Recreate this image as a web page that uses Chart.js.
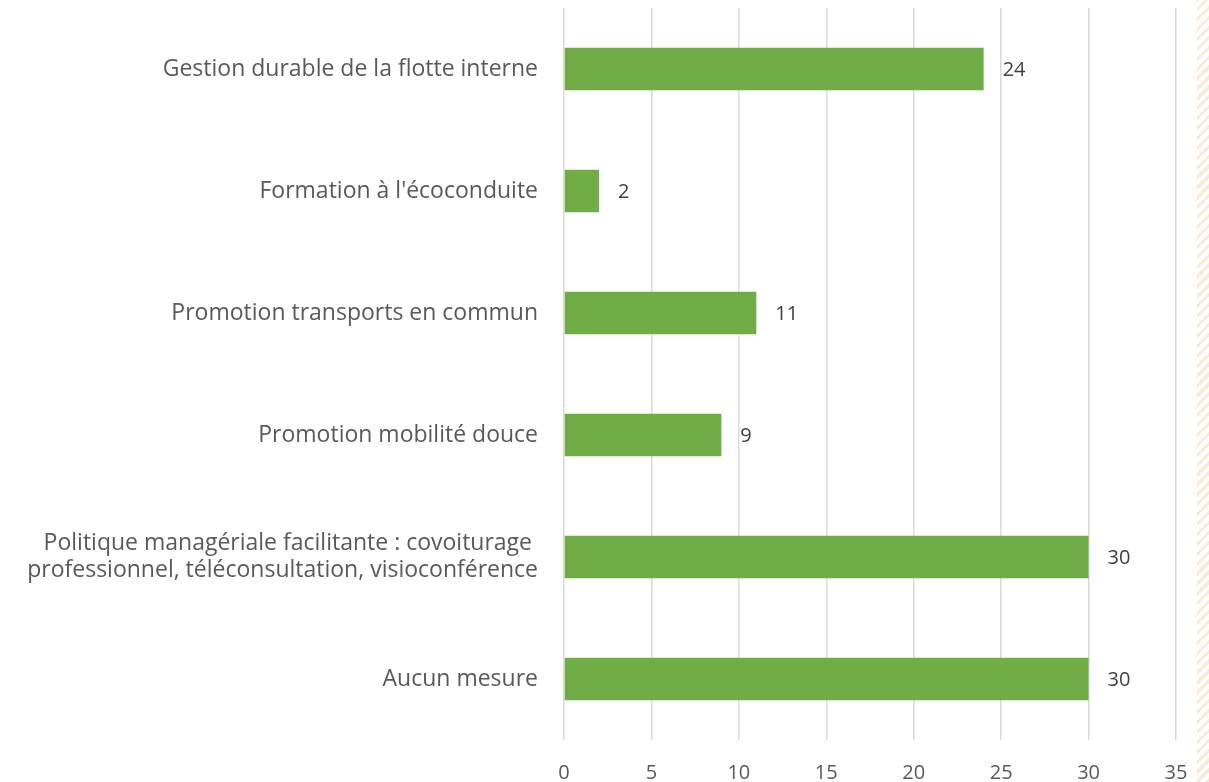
<!DOCTYPE html>
<html>
<head>
<meta charset="utf-8">
<script src="https://cdn.jsdelivr.net/npm/chart.js@4"></script>
<style>
  html, body { margin: 0; padding: 0; background: #fff; }
  #wrap { position: relative; width: 1209px; height: 782px; }
  canvas { display: block; }
  #stripe { position: absolute; right: 0; top: 0; width: 12px; height: 782px;
    background: repeating-linear-gradient(-45deg, #f8ecd8 0 3px, #fff 3px 7px); }
</style>
</head>
<body>
<div id="wrap">
  <canvas id="chart" width="1209" height="782"></canvas>
  <div id="stripe"></div>
</div>
<script>
// Mesures de mobilité
const categories = [
  'Gestion durable de la flotte interne',
  "Formation à l'écoconduite",
  'Promotion transports en commun',
  'Promotion mobilité douce',
  ['Politique managériale facilitante : covoiturage ', 'professionnel, téléconsultation, visioconférence'],
  'Aucun mesure'
];
const values = [24, 2, 11, 9, 30, 30];
const xTicks = [0, 5, 10, 15, 20, 25, 30, 35];

const FONT = '"Open Sans", sans-serif';

// draw the value next to each bar
const valueLabels = {
  id: 'valueLabels',
  afterDatasetsDraw(chart) {
    const ctx = chart.ctx;
    const meta = chart.getDatasetMeta(0);
    ctx.save();
    ctx.font = '20px ' + FONT;
    ctx.fillStyle = '#404040';
    ctx.textAlign = 'left';
    ctx.textBaseline = 'middle';
    meta.data.forEach((bar, i) => {
      ctx.fillText(String(values[i]), bar.x + 19, bar.y + 1);
    });
    ctx.restore();
  }
};

new Chart(document.getElementById('chart'), {
  type: 'bar',
  data: {
    labels: categories,
    datasets: [{
      data: values,
      backgroundColor: '#70ad47',
      borderWidth: 0,
      barPercentage: 0.35,
      categoryPercentage: 1
    }]
  },
  options: {
    indexAxis: 'y',
    responsive: false,
    animation: false,
    layout: { padding: { top: 8, right: 33, bottom: 0, left: 0 } },
    plugins: { legend: { display: false }, tooltip: { enabled: false } },
    scales: {
      x: {
        min: 0, max: 35,
        afterBuildTicks: axis => { axis.ticks = xTicks.map(v => ({ value: v })); },
        afterFit: axis => { axis.height = 42; axis.paddingLeft = 0; axis.paddingRight = 0; },
        grid: { color: '#d9d9d9', lineWidth: 1.5, drawTicks: false },
        border: { display: false },
        ticks: { color: '#595959', font: { family: FONT, size: 20 }, padding: 21 }
      },
      y: {
        afterFit: axis => { axis.width = 564; axis.paddingTop = 0; axis.paddingBottom = 0; },
        grid: { display: false },
        border: { display: false },
        ticks: { color: '#595959', font: { family: FONT, size: 23, lineHeight: 1.2 }, padding: 18 }
      }
    }
  },
  plugins: [valueLabels]
});
</script>
</body>
</html>
